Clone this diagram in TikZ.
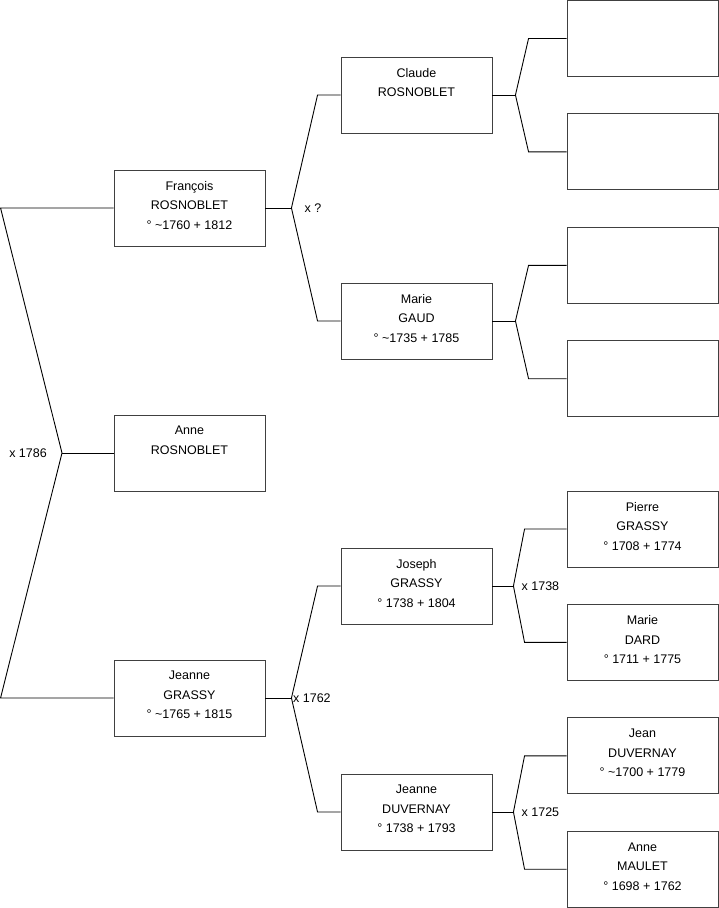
\documentclass[tikz,border=0pt]{standalone}
\usepackage{fontspec}
\setmainfont{Liberation Sans}
\usetikzlibrary{calc, positioning}
\tikzset{
  person/.style={
    rectangle, draw=black!75, line width=0.9pt, minimum width=151pt, minimum height=76pt,
    inner sep=0pt, align=center, font=\fontsize{12.5}{19.5}\selectfont
  },
  link/.style={line width=0.9pt, draw=black},
  union/.style={inner sep=0pt, font=\fontsize{12.5}{15}\selectfont}
}

\begin{document}
\begin{tikzpicture}[x=1pt, y=-1pt]

\useasboundingbox (0,0) rectangle (719,908);

% generation 1
\node[person] (fran) at (189.5,208) {François\\ROSNOBLET\\\strut° \textasciitilde1760 + 1812};
\node[person] (anne) at (189.5,453) {Anne\\ROSNOBLET\\\strut};
\node[person] (jeanneg) at (189.5,698) {Jeanne\\GRASSY\\\strut° \textasciitilde1765 + 1815};

% generation 2
\node[person] (claude) at (416.5,95) {Claude\\ROSNOBLET\\\strut};
\node[person] (marieg) at (416.5,321) {Marie\\GAUD\\\strut° \textasciitilde1735 + 1785};
\node[person] (joseph) at (416.5,586) {Joseph\\GRASSY\\\strut° 1738 + 1804};
\node[person] (jeanned) at (416.5,812) {Jeanne\\DUVERNAY\\\strut° 1738 + 1793};

% generation 3
\node[person] (empty1) at (642.5,38.5) {};
\node[person, below=36.5pt of empty1] (empty2) {};
\node[person, below=36.5pt of empty2] (empty3) {};
\node[person, below=36.5pt of empty3] (empty4) {};
\node[person] (pierre) at (642.5,529) {Pierre\\GRASSY\\\strut° 1708 + 1774};
\node[person, below=36.5pt of pierre] (mdard) {Marie\\DARD\\\strut° 1711 + 1775};
\node[person, below=36.5pt of mdard] (jean) {Jean\\DUVERNAY\\\strut° \textasciitilde1700 + 1779};
\node[person, below=36.5pt of jean] (amaulet) {Anne\\MAULET\\\strut° 1698 + 1762};

% unions
\coordinate (xanne) at (62,453);
\coordinate (xfran) at ($(fran.east)+(26,0)$);
\coordinate (xjeanneg) at ($(jeanneg.east)+(26,0)$);
\coordinate (xclaude) at ($(claude.east)+(23,0)$);
\coordinate (xmarieg) at ($(marieg.east)+(23,0)$);
\coordinate (xjoseph) at ($(joseph.east)+(21,0)$);
\coordinate (xjeanned) at ($(jeanned.east)+(21,0)$);

\node[union, anchor=east] (ux1786) at ($(xanne)+(-15,0)$) {x 1786};
\node[union, anchor=west] (uxq) at ($(xfran)+(13,0)$) {x ?};
\node[union, anchor=west] (ux1762) at ($(xjeanneg)+(1.5,0)$) {x 1762};
\node[union, anchor=west] (ux1738) at ($(xjoseph)+(8,0)$) {x 1738};
\node[union, anchor=west] (ux1725) at ($(xjeanned)+(8,0)$) {x 1725};

% connectors
\draw[link] (anne) -- (xanne);
\draw[link] (fran.west) -- ++(-113,0) -- (xanne) -- ($(jeanneg.west)+(-113,0)$) -- (jeanneg.west);

\draw[link] (fran) -- (xfran);
\draw[link] (claude.west) -- ++(-23,0) -- (xfran) -- ($(marieg.west)+(-23,0)$) -- (marieg.west);
\draw[link] (jeanneg) -- (xjeanneg);
\draw[link] (joseph.west) -- ++(-23,0) -- (xjeanneg) -- ($(jeanned.west)+(-23,0)$) -- (jeanned.west);

\draw[link] (claude) -- (xclaude);
\draw[link] (empty1.west) -- ++(-38,0) -- (xclaude) -- ($(empty2.west)+(-38,0)$) -- (empty2.west);
\draw[link] (marieg) -- (xmarieg);
\draw[link] (empty3.west) -- ++(-38,0) -- (xmarieg) -- ($(empty4.west)+(-38,0)$) -- (empty4.west);
\draw[link] (joseph) -- (xjoseph);
\draw[link] (pierre.west) -- ++(-42,0) -- (xjoseph) -- ($(mdard.west)+(-42,0)$) -- (mdard.west);
\draw[link] (jeanned) -- (xjeanned);
\draw[link] (jean.west) -- ++(-42,0) -- (xjeanned) -- ($(amaulet.west)+(-42,0)$) -- (amaulet.west);

\end{tikzpicture}
\end{document}
